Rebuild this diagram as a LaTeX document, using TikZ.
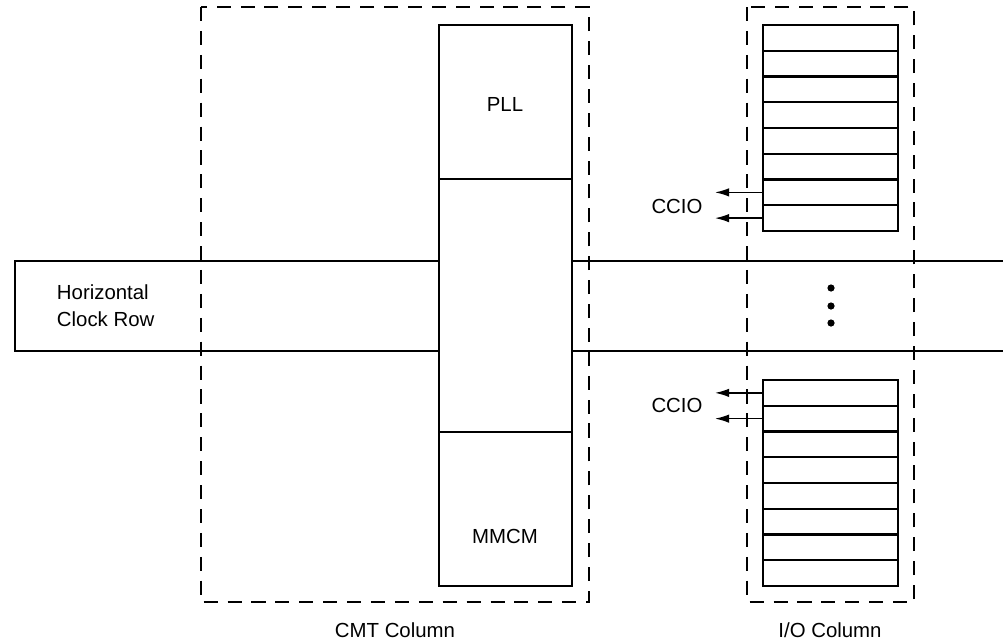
\documentclass[tikz,border=0pt]{standalone}
\usepackage{fontspec}
\setmainfont{Liberation Sans}
\usetikzlibrary{arrows.meta}
\tikzset{
  colbox/.style={line width=1.6pt, dash pattern=on 10pt off 7pt},
  block/.style={draw, line width=1.5pt, fill=white, minimum width=3.325cm, inner sep=0pt},
  iorow/.style={draw, line width=1.5pt, minimum width=3.375cm, minimum height=0.644cm, inner sep=0pt},
  ccio/.style={line width=1pt, -{Latex[length=10pt,width=6pt]}},
  lbl/.style={font=\fontsize{14.5}{19}\selectfont}
}
\begin{document}
\begin{tikzpicture}[x=0.025cm, y=-0.025cm]
  \useasboundingbox (0,0) rectangle (1003,640);
  % clock row
  \draw[line width=1.5pt] (1010,261) -- (15,261) -- (15,351) -- (1010,351);
  \node[lbl, anchor=west, align=left] (hrow) at (52,306) {Horizontal\\Clock Row};

  % CMT column
  \node[block, minimum height=3.85cm] (pll) at (505.5,102) {};
  \node[block, minimum height=6.325cm] (mid) at (505.5,305.5) {};
  \node[block, minimum height=3.85cm] (mmcm) at (505.5,509) {};
  \node[lbl] (plltxt) at (505,104) {PLL};
  \node[lbl] (mmcmtxt) at (505,536) {MMCM};
  \draw[colbox] (201,7) rectangle (589,602);
  \node[lbl] (cmtcol) at (395,630) {CMT Column};

  % I/O column
  \foreach \i in {0,...,7} {
    \node[iorow] (ta\i) at (830.5,{37.875+25.75*\i}) {};
    \node[iorow] (tb\i) at (830.5,{392.875+25.75*\i}) {};
  }
  \coordinate (tip) at (715,0);
  \draw[ccio] (ta6.west) -- (ta6.west -| tip);
  \draw[ccio] (ta7.west) -- (ta7.west -| tip);
  \draw[ccio] (tb0.west) -- (tb0.west -| tip);
  \draw[ccio] (tb1.west) -- (tb1.west -| tip);
  \node[lbl] (ccioa) at (677,206) {CCIO};
  \node[lbl] (cciob) at (677,405) {CCIO};
  \foreach \y in {288,306,323} \fill (831,\y) circle (3.6);
  \draw[colbox] (747,7) rectangle (914,602);
  \node[lbl] (iocol) at (830,630) {I/O Column};
\end{tikzpicture}
\end{document}
